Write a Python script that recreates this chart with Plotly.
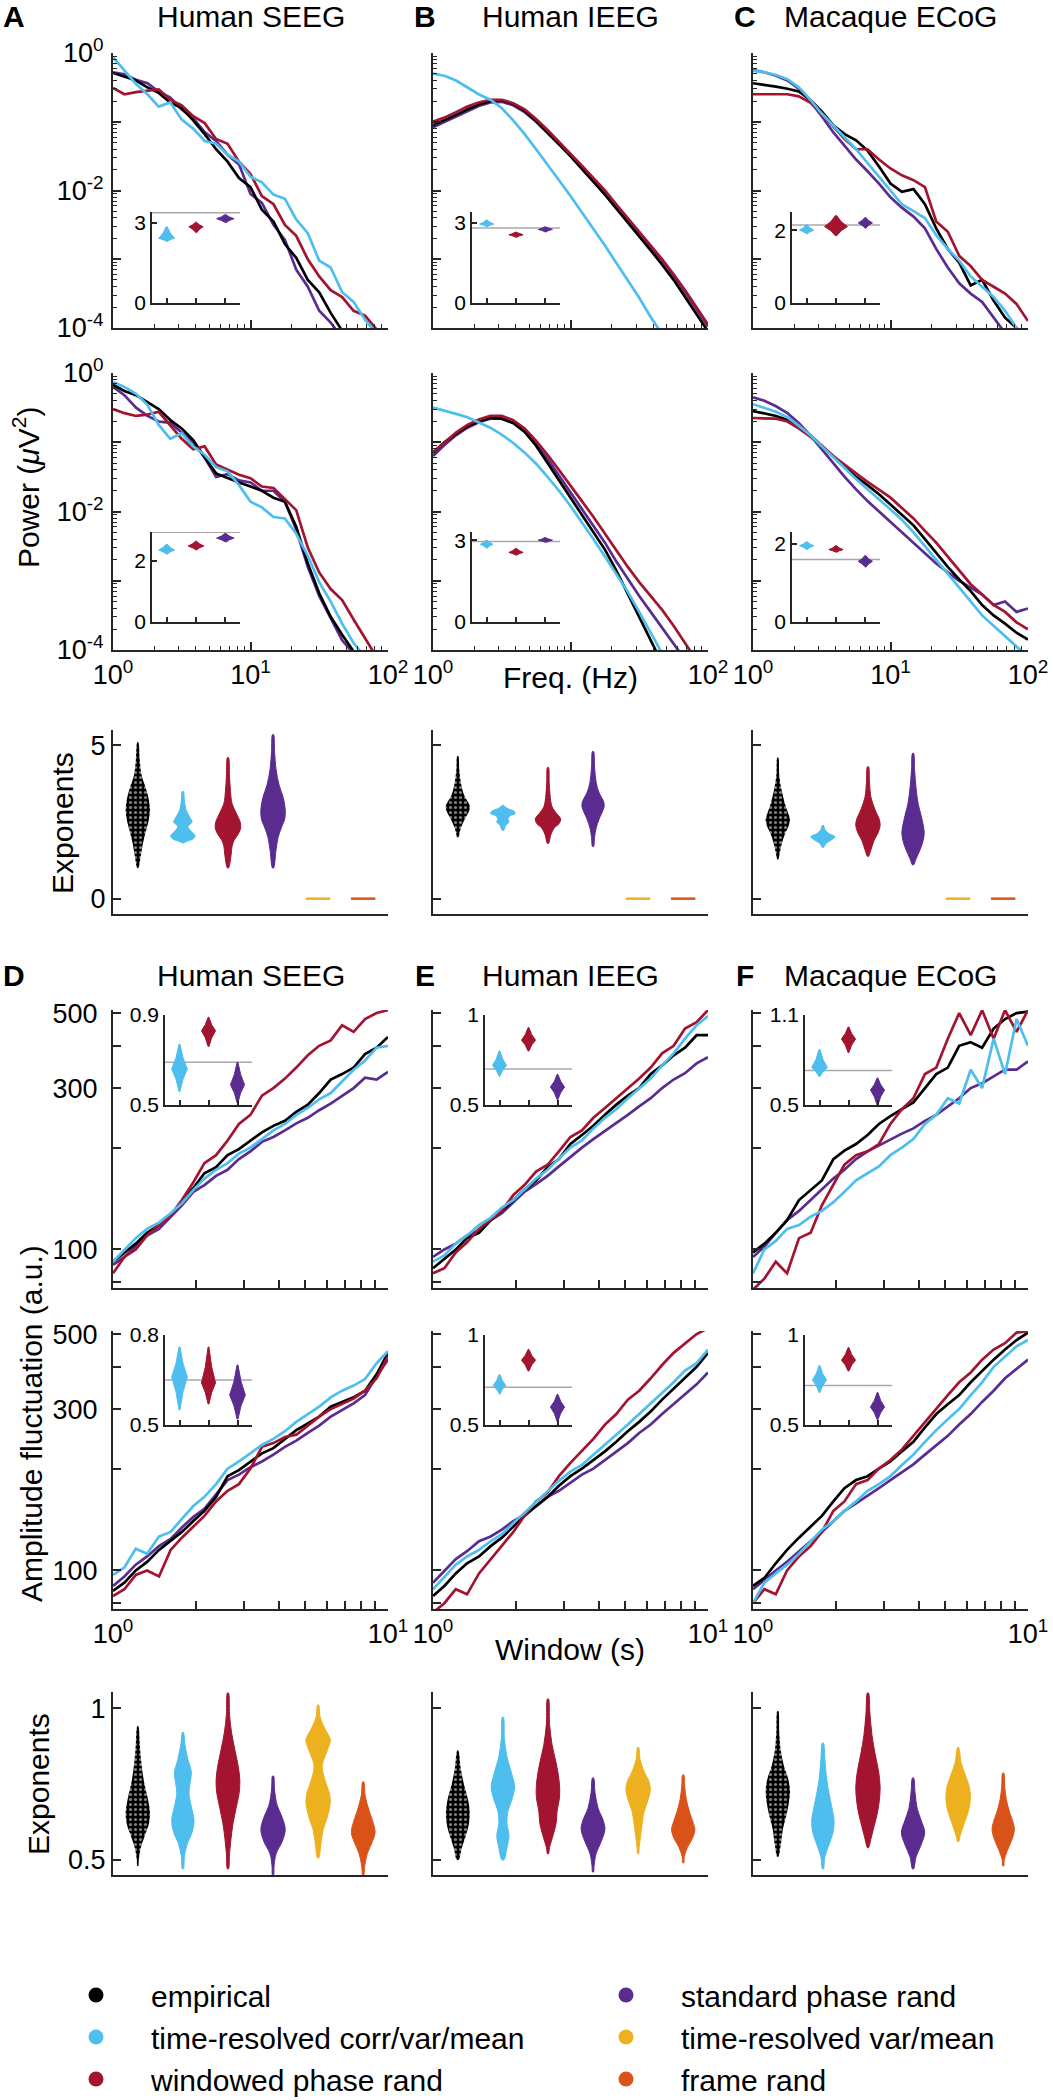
import plotly.graph_objects as go

W, H = 1053, 2100
FONT = 'Liberation Sans, Arial, Helvetica, sans-serif'

COLORS = {'emp': '#000000', 'trc': '#4DBEEE', 'wpr': '#A2142F',
          'spr': '#5B2C8F', 'trv': '#EDB120', 'fr': '#D95319'}
LABELS = {'emp': 'empirical', 'trc': 'time-resolved corr/var/mean',
          'wpr': 'windowed phase rand', 'spr': 'standard phase rand',
          'trv': 'time-resolved var/mean', 'fr': 'frame rand'}
VIOLIN_ORDER = ['emp', 'trc', 'wpr', 'spr', 'trv', 'fr']
col_titles = ['Human SEEG', 'Human IEEG', 'Macaque ECoG']
psd_letters = ['A', 'B', 'C']
dfa_letters = ['D', 'E', 'F']

# ---------------- PSD spectra (log10 power, µV^2) ----------------
psd_freq = [1.0, 1.21, 1.47, 1.78, 2.15, 2.61, 3.16, 3.83, 4.64, 5.62, 6.81, 8.25,
            10.0, 12.1, 14.7, 17.8, 21.5, 26.1, 31.6, 38.3, 46.4, 56.2, 68.1, 82.5, 100.0]

psdA1_emp = [-0.29, -0.35, -0.40, -0.50, -0.58, -0.72, -0.80, -0.98, -1.18, -1.40, -1.58, -1.82, -1.95, -2.28, -2.45, -2.78, -2.98, -3.30, -3.48, -3.78, -4.05, -4.30, -4.50, -4.70, -4.90]
psdA1_spr = [-0.28, -0.31, -0.39, -0.44, -0.56, -0.65, -0.82, -0.95, -1.15, -1.28, -1.48, -1.62, -2.05, -2.18, -2.50, -2.72, -3.15, -3.40, -3.75, -3.92, -4.15, -4.40, -4.60, -4.80, -5.00]
psdA1_wpr = [-0.51, -0.60, -0.57, -0.55, -0.53, -0.68, -0.76, -0.92, -1.02, -1.25, -1.32, -1.58, -1.76, -2.08, -2.20, -2.50, -2.66, -3.00, -3.25, -3.45, -3.55, -3.75, -3.82, -4.02, -4.10]
psdA1_trc = [-0.06, -0.25, -0.45, -0.60, -0.78, -0.72, -0.97, -1.10, -1.28, -1.32, -1.48, -1.58, -1.80, -1.88, -2.06, -2.12, -2.42, -2.62, -3.02, -3.12, -3.48, -3.62, -3.88, -4.08, -4.30]

psdA2_emp = [-0.17, -0.26, -0.32, -0.42, -0.52, -0.68, -0.80, -0.97, -1.22, -1.45, -1.52, -1.58, -1.64, -1.70, -1.80, -1.86, -2.22, -2.75, -3.18, -3.52, -3.78, -4.02, -4.20, -4.40, -4.60]
psdA2_spr = [-0.20, -0.32, -0.50, -0.62, -0.70, -0.72, -0.86, -1.00, -1.22, -1.50, -1.46, -1.55, -1.58, -1.70, -1.70, -1.86, -2.26, -2.80, -3.22, -3.55, -3.86, -4.05, -4.25, -4.45, -4.65]
psdA2_wpr = [-0.52, -0.58, -0.62, -0.60, -0.56, -0.76, -0.95, -1.10, -1.06, -1.32, -1.40, -1.47, -1.52, -1.64, -1.66, -1.82, -1.98, -2.52, -2.88, -3.12, -3.28, -3.56, -3.84, -4.10, -4.30]
psdA2_trc = [-0.13, -0.20, -0.30, -0.46, -0.75, -0.95, -0.87, -1.06, -1.18, -1.36, -1.42, -1.62, -1.86, -1.94, -2.08, -2.10, -2.32, -2.64, -3.02, -3.30, -3.62, -3.90, -4.10, -4.30, -4.50]

psdB1_emp = [-1.05, -0.98, -0.90, -0.82, -0.75, -0.70, -0.69, -0.74, -0.84, -0.99, -1.15, -1.32, -1.50, -1.68, -1.87, -2.06, -2.26, -2.46, -2.66, -2.87, -3.08, -3.30, -3.55, -3.80, -4.05]
psdB1_wpr = [-1.00, -0.94, -0.86, -0.78, -0.72, -0.68, -0.68, -0.73, -0.82, -0.96, -1.12, -1.29, -1.46, -1.64, -1.82, -2.00, -2.20, -2.40, -2.60, -2.80, -3.00, -3.22, -3.45, -3.70, -3.95]
psdB1_spr = [-1.08, -1.00, -0.92, -0.84, -0.77, -0.72, -0.71, -0.76, -0.86, -1.00, -1.16, -1.33, -1.50, -1.68, -1.86, -2.05, -2.24, -2.43, -2.62, -2.82, -3.02, -3.24, -3.48, -3.72, -3.98]
psdB1_trc = [-0.30, -0.33, -0.40, -0.50, -0.60, -0.68, -0.80, -0.98, -1.18, -1.40, -1.62, -1.85, -2.08, -2.32, -2.55, -2.80, -3.05, -3.30, -3.56, -3.84, -4.10, -4.35, -4.60, -4.85, -5.10]

psdB2_emp = [-1.15, -1.00, -0.88, -0.77, -0.70, -0.65, -0.66, -0.72, -0.85, -1.05, -1.30, -1.55, -1.80, -2.05, -2.30, -2.55, -2.85, -3.20, -3.55, -3.90, -4.25, -4.60, -4.90, -5.20, -5.50]
psdB2_wpr = [-1.15, -1.00, -0.86, -0.75, -0.67, -0.62, -0.62, -0.68, -0.80, -0.98, -1.18, -1.40, -1.62, -1.85, -2.08, -2.32, -2.56, -2.80, -3.02, -3.22, -3.42, -3.65, -3.90, -4.15, -4.40]
psdB2_spr = [-1.20, -1.04, -0.90, -0.79, -0.71, -0.66, -0.66, -0.72, -0.84, -1.02, -1.24, -1.48, -1.72, -1.96, -2.20, -2.45, -2.72, -2.98, -3.22, -3.45, -3.68, -3.90, -4.12, -4.35, -4.60]
psdB2_trc = [-0.50, -0.54, -0.59, -0.64, -0.71, -0.79, -0.89, -1.01, -1.15, -1.31, -1.50, -1.70, -1.92, -2.15, -2.40, -2.65, -2.90, -3.16, -3.45, -3.75, -4.05, -4.35, -4.65, -4.95, -5.25]

psdC1_emp = [-0.44, -0.46, -0.49, -0.52, -0.56, -0.68, -0.85, -1.05, -1.18, -1.27, -1.42, -1.65, -1.90, -2.02, -1.98, -2.20, -2.55, -2.85, -3.05, -3.38, -3.30, -3.60, -3.85, -4.00, -4.20]
psdC1_wpr = [-0.60, -0.60, -0.60, -0.60, -0.63, -0.72, -0.88, -1.06, -1.25, -1.40, -1.40, -1.55, -1.68, -1.78, -1.85, -1.95, -2.45, -2.60, -2.95, -3.10, -3.30, -3.40, -3.50, -3.65, -3.90]
psdC1_spr = [-0.25, -0.28, -0.33, -0.40, -0.52, -0.70, -0.92, -1.15, -1.35, -1.55, -1.72, -1.90, -2.10, -2.25, -2.38, -2.55, -2.85, -3.12, -3.35, -3.50, -3.62, -3.85, -4.10, -4.30, -4.50]
psdC1_trc = [-0.26, -0.28, -0.32, -0.38, -0.50, -0.68, -0.88, -1.05, -1.22, -1.40, -1.60, -1.80, -2.00, -2.20, -2.30, -2.40, -2.65, -2.85, -3.02, -3.25, -3.40, -3.55, -3.75, -4.00, -4.20]

psdC2_emp = [-0.55, -0.58, -0.62, -0.68, -0.78, -0.90, -1.05, -1.20, -1.35, -1.50, -1.62, -1.75, -1.90, -2.05, -2.20, -2.40, -2.60, -2.80, -2.98, -3.15, -3.35, -3.50, -3.62, -3.75, -3.85]
psdC2_wpr = [-0.65, -0.65, -0.66, -0.70, -0.80, -0.92, -1.05, -1.20, -1.33, -1.45, -1.57, -1.68, -1.80, -1.95, -2.10, -2.28, -2.45, -2.65, -2.85, -3.05, -3.20, -3.35, -3.45, -3.60, -3.70]
psdC2_spr = [-0.35, -0.40, -0.48, -0.58, -0.72, -0.90, -1.10, -1.30, -1.50, -1.68, -1.85, -2.00, -2.15, -2.30, -2.45, -2.60, -2.75, -2.88, -3.00, -3.10, -3.20, -3.35, -3.30, -3.45, -3.40]
psdC2_trc = [-0.45, -0.50, -0.56, -0.64, -0.76, -0.90, -1.06, -1.22, -1.38, -1.53, -1.68, -1.82, -1.97, -2.12, -2.30, -2.50, -2.70, -2.90, -3.10, -3.30, -3.50, -3.65, -3.80, -3.95, -4.10]

# ---------------- DFA fluctuation (a.u.) ----------------
dfa_win = [1.0, 1.1, 1.21, 1.33, 1.47, 1.62, 1.78, 1.96, 2.15, 2.37, 2.61, 2.87,
           3.16, 3.48, 3.83, 4.22, 4.64, 5.11, 5.62, 6.19, 6.81, 7.5, 8.25, 9.09, 10.0]

dfaD1_emp = [92, 98, 104, 112, 118, 127, 138, 152, 168, 175, 190, 198, 210, 222, 232, 240, 255, 268, 290, 318, 330, 345, 378, 395, 425]
dfaD1_wpr = [85, 95, 100, 110, 118, 126, 140, 158, 180, 190, 210, 235, 250, 285, 300, 320, 345, 375, 400, 415, 460, 440, 480, 500, 510]
dfaD1_trc = [92, 100, 108, 115, 120, 128, 137, 150, 162, 172, 180, 192, 200, 212, 225, 235, 250, 262, 278, 290, 315, 340, 362, 395, 400]
dfaD1_spr = [90, 95, 102, 110, 115, 125, 135, 148, 155, 165, 172, 185, 195, 208, 215, 225, 236, 245, 258, 270, 285, 300, 322, 318, 335]

dfaD2_emp = [87, 92, 100, 106, 115, 122, 130, 140, 150, 165, 190, 198, 210, 222, 230, 245, 260, 272, 285, 305, 315, 325, 340, 380, 440]
dfaD2_trc = [97, 102, 116, 112, 126, 130, 142, 155, 165, 180, 200, 210, 222, 235, 245, 258, 275, 290, 305, 325, 340, 352, 368, 410, 445]
dfaD2_wpr = [84, 88, 97, 100, 96, 115, 125, 135, 145, 160, 172, 180, 200, 232, 238, 248, 252, 268, 285, 300, 310, 322, 340, 370, 430]
dfaD2_spr = [90, 96, 104, 110, 118, 124, 134, 144, 152, 168, 185, 192, 202, 210, 220, 232, 242, 255, 268, 285, 298, 312, 330, 375, 420]

dfaE1_emp = [88, 94, 100, 108, 112, 122, 130, 140, 150, 160, 175, 185, 205, 218, 232, 250, 268, 285, 300, 330, 350, 375, 395, 430, 430]
dfaE1_wpr = [85, 88, 98, 105, 115, 122, 130, 145, 155, 170, 178, 195, 215, 225, 245, 262, 280, 300, 320, 345, 380, 400, 450, 470, 510]
dfaE1_trc = [92, 96, 104, 110, 118, 124, 133, 140, 150, 162, 172, 185, 200, 210, 228, 245, 260, 280, 300, 320, 350, 380, 420, 460, 490]
dfaE1_spr = [95, 100, 104, 110, 114, 122, 128, 138, 148, 156, 165, 176, 188, 200, 212, 224, 236, 250, 265, 280, 300, 318, 332, 355, 370]

dfaE2_emp = [84, 90, 98, 105, 110, 118, 125, 135, 145, 155, 165, 178, 190, 200, 212, 225, 240, 258, 275, 295, 320, 345, 370, 400, 440]
dfaE2_wpr = [75, 80, 88, 85, 98, 108, 118, 130, 145, 160, 170, 190, 208, 225, 245, 270, 290, 320, 340, 370, 405, 440, 470, 500, 520]
dfaE2_trc = [88, 96, 104, 110, 115, 122, 128, 138, 148, 160, 172, 184, 196, 205, 220, 235, 252, 270, 290, 310, 335, 360, 390, 410, 450]
dfaE2_spr = [92, 100, 108, 114, 122, 126, 132, 140, 146, 155, 165, 172, 182, 192, 200, 212, 225, 238, 255, 270, 290, 310, 330, 355, 385]

dfaF1_emp = [98, 104, 112, 122, 140, 150, 160, 185, 196, 205, 218, 235, 248, 260, 272, 300, 330, 345, 400, 410, 395, 450, 480, 500, 505]
dfaF1_wpr = [76, 82, 92, 85, 108, 112, 135, 155, 178, 190, 195, 205, 235, 260, 280, 330, 345, 420, 500, 430, 510, 420, 510, 440, 510]
dfaF1_trc = [85, 100, 106, 115, 118, 125, 130, 138, 148, 160, 168, 176, 190, 200, 212, 235, 250, 280, 270, 340, 300, 420, 330, 480, 400]
dfaF1_spr = [95, 102, 112, 122, 130, 140, 150, 162, 172, 185, 195, 203, 212, 220, 228, 240, 250, 265, 280, 300, 310, 325, 340, 340, 360]

dfaF2_emp = [90, 95, 105, 115, 125, 135, 145, 160, 175, 185, 190, 200, 210, 225, 240, 265, 290, 310, 330, 360, 390, 420, 450, 480, 505]
dfaF2_wpr = [80, 88, 85, 100, 110, 118, 130, 150, 160, 180, 185, 200, 212, 228, 250, 275, 300, 330, 360, 385, 420, 450, 470, 505, 510]
dfaF2_trc = [80, 92, 98, 104, 112, 122, 132, 140, 150, 160, 172, 180, 190, 205, 220, 240, 260, 280, 300, 330, 360, 400, 430, 460, 480]
dfaF2_spr = [88, 94, 100, 106, 114, 122, 130, 140, 150, 158, 166, 175, 185, 195, 206, 220, 235, 250, 270, 290, 315, 340, 370, 395, 420]

# ---------------- exponent distributions: (exponent levels, relative density) ----------------
psdA_vio = {
    'emp': ([1.0, 1.4, 1.8, 2.2, 2.6, 2.9, 3.2, 3.6, 4.0, 4.5, 5.1], [0.5, 3, 5, 8, 11, 12, 11, 8, 4, 2, 0.5]),
    'trc': ([1.82, 1.86, 1.95, 2.05, 2.2, 2.35, 2.5, 2.65, 2.9, 3.2, 3.5], [0.5, 3, 10, 12, 8, 5, 9, 7, 3, 1.5, 0.5]),
    'wpr': ([1.0, 1.4, 1.7, 1.9, 2.1, 2.3, 2.5, 2.8, 3.1, 3.5, 4.0, 4.6], [0.5, 3, 4, 6, 10, 12.5, 12, 8, 4, 2.5, 1.5, 0.5]),
    'spr': ([1.0, 1.6, 2.0, 2.3, 2.6, 2.9, 3.3, 3.7, 4.2, 4.8, 5.35], [0.5, 3, 5, 8, 11.5, 12, 10, 6, 3, 1.5, 0.5]),
}
psdB_vio = {
    'emp': ([2.0, 2.3, 2.6, 2.85, 3.0, 3.15, 3.4, 3.8, 4.2, 4.65], [0.5, 3, 7, 11, 12, 10, 6, 3, 1.5, 0.5]),
    'trc': ([2.22, 2.4, 2.5, 2.6, 2.7, 2.78, 2.85, 2.95, 3.04], [0.5, 3, 6, 5, 7, 12, 11, 4, 0.5]),
    'wpr': ([1.8, 2.1, 2.3, 2.45, 2.6, 2.8, 3.0, 3.4, 3.8, 4.28], [0.5, 3, 6, 11, 12.5, 8, 4, 2, 1.2, 0.5]),
    'spr': ([1.7, 2.0, 2.3, 2.6, 2.9, 3.05, 3.2, 3.45, 3.8, 4.3, 4.8], [0.5, 1.5, 3, 6, 10, 11, 10, 6, 3, 1.5, 0.5]),
}
psdC_vio = {
    'emp': ([1.28, 1.5, 1.8, 2.1, 2.4, 2.6, 2.8, 3.1, 3.5, 4.0, 4.6], [0.5, 2, 4, 7, 11, 12, 10, 7, 4, 1.5, 0.5]),
    'trc': ([1.67, 1.8, 1.93, 2.02, 2.12, 2.25, 2.39], [0.5, 3, 9, 12, 6, 2, 0.5]),
    'wpr': ([1.38, 1.6, 1.9, 2.15, 2.4, 2.6, 2.9, 3.3, 3.8, 4.3], [0.5, 3, 6, 10, 12, 11, 7, 3, 1.5, 0.5]),
    'spr': ([1.1, 1.3, 1.6, 1.9, 2.15, 2.4, 2.7, 3.1, 3.6, 4.2, 4.74], [0.5, 3, 7, 10, 11, 10, 8, 5, 3, 1.5, 0.5]),
}
psd_flat_exponent = {'trv': 0.0, 'fr': 0.0}

dfaD_vio = {
    'emp': ([0.48, 0.5, 0.54, 0.58, 0.62, 0.655, 0.7, 0.76, 0.82, 0.88, 0.94], [0.5, 1, 3, 7, 11, 12, 10, 6, 3.5, 2, 0.5]),
    'trc': ([0.47, 0.51, 0.55, 0.59, 0.63, 0.68, 0.72, 0.75, 0.79, 0.83, 0.88, 0.92], [0.5, 1.5, 4, 9, 11, 8, 6, 7, 8.3, 5, 2, 0.5]),
    'wpr': ([0.47, 0.52, 0.57, 0.62, 0.67, 0.72, 0.76, 0.8, 0.86, 0.92, 0.98, 1.05], [0.5, 1.5, 3, 5, 8, 11, 11.7, 10.5, 7, 3.5, 1.5, 0.5]),
    'spr': ([0.45, 0.48, 0.52, 0.56, 0.6, 0.64, 0.68, 0.73, 0.776], [0.5, 1, 3, 9, 12, 9, 4, 1.5, 0.5]),
    'trv': ([0.506, 0.56, 0.6, 0.64, 0.69, 0.72, 0.76, 0.81, 0.86, 0.895, 0.93, 0.97, 1.01], [0.5, 3, 5, 9, 12, 11, 7, 4, 9, 12, 7, 2, 0.5]),
    'fr': ([0.45, 0.48, 0.52, 0.56, 0.59, 0.62, 0.66, 0.71, 0.757], [0.5, 1.5, 4, 9, 11.7, 10, 6, 2, 0.5]),
}
dfaE_vio = {
    'emp': ([0.5, 0.54, 0.58, 0.62, 0.66, 0.7, 0.75, 0.8, 0.86], [1, 4, 8, 11, 11.7, 10, 6, 3, 0.5]),
    'trc': ([0.5, 0.54, 0.58, 0.62, 0.66, 0.7, 0.74, 0.78, 0.84, 0.9, 0.97], [1, 4, 6, 4, 5, 9, 11.5, 9, 4, 1.5, 0.5]),
    'wpr': ([0.52, 0.54, 0.58, 0.62, 0.66, 0.71, 0.76, 0.82, 0.88, 0.95, 1.03], [0.5, 1.5, 5, 8, 9, 11.5, 11, 8, 4, 1.5, 0.5]),
    'spr': ([0.46, 0.48, 0.52, 0.56, 0.6, 0.63, 0.67, 0.72, 0.77], [0.5, 1, 3, 8, 11.7, 10, 5, 2, 0.5]),
    'trv': ([0.52, 0.54, 0.58, 0.62, 0.66, 0.7, 0.73, 0.76, 0.79, 0.83, 0.87], [0.5, 1, 2.5, 4, 6, 10, 12, 10.5, 6, 2, 0.5]),
    'fr': ([0.49, 0.51, 0.54, 0.57, 0.6, 0.62, 0.66, 0.7, 0.74, 0.78], [0.5, 1, 4, 9, 11.5, 10, 6, 3, 1.5, 0.5]),
}
dfaF_vio = {
    'emp': ([0.51, 0.55, 0.6, 0.64, 0.69, 0.73, 0.77, 0.81, 0.86, 0.92, 0.99], [0.5, 3, 5, 8, 11, 12, 10, 6, 3, 1.5, 0.5]),
    'trc': ([0.47, 0.51, 0.55, 0.59, 0.63, 0.67, 0.72, 0.77, 0.83, 0.885], [0.5, 2, 6, 10, 11, 9, 6, 3.5, 2, 0.5]),
    'wpr': ([0.54, 0.57, 0.61, 0.65, 0.69, 0.74, 0.79, 0.85, 0.91, 0.98, 1.05], [0.5, 3, 6, 9, 11, 12, 10.5, 7, 4, 2, 0.5]),
    'spr': ([0.47, 0.51, 0.55, 0.59, 0.63, 0.67, 0.72, 0.77], [0.5, 3, 8, 11.5, 8, 4, 2, 0.5]),
    'trv': ([0.56, 0.58, 0.62, 0.66, 0.7, 0.74, 0.78, 0.82, 0.87], [0.5, 2, 6, 10, 12, 11, 7, 3, 0.5]),
    'fr': ([0.48, 0.5, 0.53, 0.57, 0.6, 0.62, 0.66, 0.7, 0.74, 0.786], [0.5, 1, 4, 9, 11, 10, 6, 3, 1.5, 0.5]),
}

# ---------------- insets: per surrogate (center, low, high, relative width) ----------------
psd_insets = {
    'A1': dict(top=3.4, tick=3, ref=3.37, trc=(2.42, 2.3, 2.85, 1.0), wpr=(2.85, 2.62, 3.02, 0.9), spr=(3.15, 3.0, 3.3, 1.1)),
    'A2': dict(top=2.95, tick=2, ref=2.94, trc=(2.36, 2.22, 2.55, 1.0), wpr=(2.49, 2.36, 2.65, 1.0), spr=(2.75, 2.62, 2.9, 1.1)),
    'B1': dict(top=3.4, tick=3, ref=2.8, trc=(2.95, 2.85, 3.1, 0.9), wpr=(2.55, 2.45, 2.65, 0.9), spr=(2.75, 2.65, 2.85, 0.9)),
    'B2': dict(top=3.3, tick=3, ref=2.95, trc=(2.85, 2.7, 3.0, 0.8), wpr=(2.55, 2.45, 2.7, 0.9), spr=(3.0, 2.92, 3.1, 0.9)),
    'C1': dict(top=2.5, tick=2, ref=2.14, trc=(2.0, 1.9, 2.15, 0.9), wpr=(2.1, 1.85, 2.4, 1.45), spr=(2.2, 2.05, 2.35, 0.9)),
    'C2': dict(top=2.3, tick=2, ref=1.6, trc=(1.95, 1.85, 2.05, 0.9), wpr=(1.85, 1.78, 1.95, 0.9), spr=(1.55, 1.4, 1.7, 0.9)),
}
dfa_insets = {
    'D1': dict(top=0.9, ref=0.69, trc=(0.66, 0.56, 0.77, 1.0), wpr=(0.83, 0.76, 0.89, 0.9), spr=(0.59, 0.51, 0.69, 0.9)),
    'D2': dict(top=0.8, ref=0.65, trc=(0.66, 0.55, 0.76, 1.0), wpr=(0.64, 0.57, 0.76, 0.9), spr=(0.6, 0.52, 0.7, 1.0)),
    'E1': dict(top=1.0, ref=0.7, trc=(0.72, 0.66, 0.8, 0.9), wpr=(0.86, 0.8, 0.93, 0.9), spr=(0.6, 0.53, 0.67, 0.9)),
    'E2': dict(top=1.0, ref=0.71, trc=(0.72, 0.67, 0.78, 0.8), wpr=(0.86, 0.8, 0.92, 0.9), spr=(0.6, 0.52, 0.67, 0.9)),
    'F1': dict(top=1.1, ref=0.73, trc=(0.75, 0.69, 0.87, 1.0), wpr=(0.94, 0.85, 1.02, 0.9), spr=(0.6, 0.5, 0.68, 0.9)),
    'F2': dict(top=1.0, ref=0.72, trc=(0.75, 0.68, 0.83, 0.9), wpr=(0.86, 0.8, 0.93, 0.9), spr=(0.6, 0.53, 0.68, 0.9)),
}

psd_data = {
    'A1': dict(emp=psdA1_emp, spr=psdA1_spr, wpr=psdA1_wpr, trc=psdA1_trc),
    'A2': dict(emp=psdA2_emp, spr=psdA2_spr, wpr=psdA2_wpr, trc=psdA2_trc),
    'B1': dict(emp=psdB1_emp, spr=psdB1_spr, wpr=psdB1_wpr, trc=psdB1_trc),
    'B2': dict(emp=psdB2_emp, spr=psdB2_spr, wpr=psdB2_wpr, trc=psdB2_trc),
    'C1': dict(emp=psdC1_emp, spr=psdC1_spr, wpr=psdC1_wpr, trc=psdC1_trc),
    'C2': dict(emp=psdC2_emp, spr=psdC2_spr, wpr=psdC2_wpr, trc=psdC2_trc),
}
dfa_data = {
    'D1': dict(emp=dfaD1_emp, spr=dfaD1_spr, wpr=dfaD1_wpr, trc=dfaD1_trc),
    'D2': dict(emp=dfaD2_emp, spr=dfaD2_spr, wpr=dfaD2_wpr, trc=dfaD2_trc),
    'E1': dict(emp=dfaE1_emp, spr=dfaE1_spr, wpr=dfaE1_wpr, trc=dfaE1_trc),
    'E2': dict(emp=dfaE2_emp, spr=dfaE2_spr, wpr=dfaE2_wpr, trc=dfaE2_trc),
    'F1': dict(emp=dfaF1_emp, spr=dfaF1_spr, wpr=dfaF1_wpr, trc=dfaF1_trc),
    'F2': dict(emp=dfaF2_emp, spr=dfaF2_spr, wpr=dfaF2_wpr, trc=dfaF2_trc),
}
psd_vios = [psdA_vio, psdB_vio, psdC_vio]
dfa_vios = [dfaD_vio, dfaE_vio, dfaF_vio]

# ---------------- layout geometry (pixels) ----------------
COLS = [113, 433, 753]
CW = 275
PSD_ROWS = [(53, 328), (373, 650)]
PSD_VIO = (730, 914)
DFA_ROWS = [(1010, 1288), (1331, 1609)]
DFA_VIO = (1692, 1875)
PSD_INSET_X = (39, 127)
PSD_INSET_Y = [(212, 303), (532, 622)]
DFA_INSET_X = (52, 139)
DFA_INSET_Y = [(1015, 1105), (1335, 1425)]
VIO_HW = 0.27 / 12.0
INSET_HW = 0.27
LINE_W = 2.7
AXC = '#262626'

fig = go.Figure()
axn = [0]


def new_axes(x0, x1, y0, y1, xcfg, ycfg):
    axn[0] += 1
    s = '' if axn[0] == 1 else str(axn[0])
    fig.update_layout(**{
        'xaxis' + s: dict(domain=[x0 / W, x1 / W], anchor='y' + s, **xcfg),
        'yaxis' + s: dict(domain=[1 - y1 / H, 1 - y0 / H], anchor='x' + s, **ycfg),
    })
    return 'x' + s, 'y' + s


def base(**kw):
    d = dict(showline=True, linecolor=AXC, linewidth=2, ticks='inside', tickcolor=AXC,
             tickwidth=1.5, ticklen=8, showgrid=False, zeroline=False, mirror=False,
             tickfont=dict(size=27, color='black', family=FONT), fixedrange=True, automargin=False,
             ticklabeloverflow='allow')
    d.update(kw)
    return d


def sup(e):
    return '10<sup>%d</sup>' % e


def violin_xy(pos, ys, dens, scale):
    xs = [pos + d * scale for d in dens] + [pos - d * scale for d in reversed(dens)]
    yy = list(ys) + list(reversed(ys))
    return xs + [xs[0]], yy + [yy[0]]


def inset_xy(pos, c, lo, hi, w):
    ys = [lo, c - 0.45 * (c - lo), c, c + 0.45 * (hi - c), hi]
    ds = [0.06, 0.45, 1.0, 0.45, 0.06]
    return violin_xy(pos, ys, [d * w for d in ds], INSET_HW)


def add_inset(left, ytb, xoff, cfg, is_psd):
    x0, x1 = left + xoff[0], left + xoff[1]
    if is_psd:
        yr = [0, cfg['top']]
        tv = [0, cfg['tick']]
        tt = ['0', str(cfg['tick'])]
    else:
        yr = [0.5, cfg['top']]
        tv = [0.5, cfg['top']]
        tt = ['0.5', ('%g' % cfg['top'])]
    xa, ya = new_axes(x0, x1, ytb[0], ytb[1],
                      base(range=[0.5, 3.5], tickvals=[1, 2, 3], showticklabels=False, ticklen=5, linewidth=1.5),
                      base(range=yr, tickvals=tv, ticktext=tt, ticklen=5, linewidth=1.5,
                           tickfont=dict(size=21, color='black', family=FONT)))
    fig.add_trace(go.Scatter(x=[0.5, 3.5], y=[cfg['ref'], cfg['ref']], mode='lines',
                             line=dict(color='#a8a8a8', width=1.5), xaxis=xa, yaxis=ya,
                             showlegend=False, hoverinfo='skip', cliponaxis=False))
    for pos, m in zip([1, 2, 3], ['trc', 'wpr', 'spr']):
        xs, yy = inset_xy(pos, *cfg[m])
        fig.add_trace(go.Scatter(x=xs, y=yy, mode='lines', fill='toself', fillcolor=COLORS[m],
                                 line=dict(color=COLORS[m], width=1), xaxis=xa, yaxis=ya,
                                 showlegend=False, hoverinfo='skip'))


def add_violin(xa, ya, pos, m, ys, dens):
    xs, yy = violin_xy(pos, ys, dens, VIO_HW)
    if m == 'emp':
        # empirical exponents are shown as a dense swarm of black dots
        fig.add_trace(go.Scatter(x=xs, y=yy, mode='lines', fill='toself', fillcolor='black',
                                 fillpattern=dict(shape='.', fgcolor='white', bgcolor='black', size=5, solidity=0.3),
                                 line=dict(color='rgba(0,0,0,0)', width=0, shape='spline'),
                                 xaxis=xa, yaxis=ya, showlegend=False, hoverinfo='skip'))
    else:
        fig.add_trace(go.Scatter(x=xs, y=yy, mode='lines', fill='toself', fillcolor=COLORS[m],
                                 line=dict(color=COLORS[m], width=1, shape='spline'),
                                 xaxis=xa, yaxis=ya, showlegend=False, hoverinfo='skip'))


DRAW_ORDER = ['spr', 'emp', 'wpr', 'trc']

for ci, left in enumerate(COLS):
    L = psd_letters[ci]
    # ---- PSD rows ----
    for ri, (t, b) in enumerate(PSD_ROWS):
        key = L + str(ri + 1)
        xt = [sup(0), sup(1) if ci != 1 else '', sup(2)]
        xcfg = base(type='log', range=[0, 2], tickvals=[1, 10, 100],
                    ticktext=xt, showticklabels=(ri == 1),
                    minor=dict(ticks='inside', ticklen=4, tickcolor=AXC, tickwidth=1,
                               tickvals=[2, 3, 4, 5, 6, 7, 8, 9, 20, 30, 40, 50, 60, 70, 80, 90]))
        ycfg = base(type='log', range=[-4, 0], tickvals=[1e-4, 1e-3, 1e-2, 1e-1, 1],
                    ticktext=[sup(-4), '', sup(-2), '', sup(0)], showticklabels=(ci == 0),
                    ticklabelstandoff=2,
                    minor=dict(ticks='inside', ticklen=4, tickcolor=AXC, tickwidth=1,
                               tickvals=[m * 10.0 ** e for e in range(-4, 0) for m in range(2, 10)]))
        xa, ya = new_axes(left, left + CW, t, b, xcfg, ycfg)
        for m in DRAW_ORDER:
            fig.add_trace(go.Scatter(x=psd_freq, y=[10 ** v for v in psd_data[key][m]], mode='lines',
                                     line=dict(color=COLORS[m], width=LINE_W), xaxis=xa, yaxis=ya,
                                     showlegend=False, hoverinfo='skip'))
        add_inset(left, PSD_INSET_Y[ri], PSD_INSET_X, psd_insets[key], True)
    # ---- PSD exponent violins ----
    xa, ya = new_axes(left, left + CW, PSD_VIO[0], PSD_VIO[1],
                      base(range=[0.45, 6.55], ticks='', showticklabels=False),
                      base(range=[-0.5, 5.5], tickvals=[0, 5], ticktext=['0', '5'], showticklabels=(ci == 0)))
    vio = psd_vios[ci]
    for pos, m in enumerate(VIOLIN_ORDER, start=1):
        if m in vio:
            add_violin(xa, ya, pos, m, *vio[m])
        else:
            v = psd_flat_exponent[m]
            fig.add_trace(go.Scatter(x=[pos - 12 * VIO_HW, pos + 12 * VIO_HW], y=[v, v], mode='lines',
                                     line=dict(color=COLORS[m], width=2.5), xaxis=xa, yaxis=ya,
                                     showlegend=False, hoverinfo='skip'))

    # ---- DFA rows ----
    L2 = dfa_letters[ci]
    for ri, (t, b) in enumerate(DFA_ROWS):
        key = L2 + str(ri + 1)
        xcfg = base(type='log', range=[0, 1], tickvals=[1, 2, 3, 4, 5, 6, 7, 8, 9, 10],
                    ticktext=[sup(0), '', '', '', '', '', '', '', '', sup(1)], showticklabels=(ri == 1))
        ycfg = base(type='log', range=[1.886, 2.708], tickvals=[80, 100, 200, 300, 400, 500],
                    ticktext=['', '100', '', '300', '', '500'], showticklabels=(ci == 0), ticklabelstandoff=8)
        xa, ya = new_axes(left, left + CW, t, b, xcfg, ycfg)
        for m in DRAW_ORDER:
            fig.add_trace(go.Scatter(x=dfa_win, y=dfa_data[key][m], mode='lines',
                                     line=dict(color=COLORS[m], width=LINE_W), xaxis=xa, yaxis=ya,
                                     showlegend=False, hoverinfo='skip'))
        add_inset(left, DFA_INSET_Y[ri], DFA_INSET_X, dfa_insets[key], False)
    # ---- DFA exponent violins ----
    xa, ya = new_axes(left, left + CW, DFA_VIO[0], DFA_VIO[1],
                      base(range=[0.45, 6.55], ticks='', showticklabels=False),
                      base(range=[0.45, 1.053], tickvals=[0.5, 1], ticktext=['0.5', '1'], showticklabels=(ci == 0)))
    vio = dfa_vios[ci]
    for pos, m in enumerate(VIOLIN_ORDER, start=1):
        add_violin(xa, ya, pos, m, *vio[m])

# ---------------- legend entries: two legends, one per column ----------------
for m, lg in [('emp', 'legend'), ('trc', 'legend'), ('wpr', 'legend'),
              ('spr', 'legend2'), ('trv', 'legend2'), ('fr', 'legend2')]:
    fig.add_trace(go.Scatter(x=[None], y=[None], mode='markers', name=LABELS[m], legend=lg,
                             marker=dict(color=COLORS[m], size=15), xaxis='x', yaxis='y', showlegend=True))

# ---------------- text annotations ----------------
ann = []


def txt(x, y, s, size=30, bold=False, angle=0, xanchor='center'):
    ann.append(dict(x=x / W, y=1 - y / H, xref='paper', yref='paper', text=('<b>%s</b>' % s) if bold else s,
                    showarrow=False, textangle=angle, xanchor=xanchor, yanchor='middle',
                    font=dict(size=size, color='black', family=FONT)))


letter_x = [14, 425, 745]
for ci, left in enumerate(COLS):
    txt(left + CW / 2, 17, col_titles[ci])
    txt(left + CW / 2, 975, col_titles[ci])
    txt(letter_x[ci], 17, psd_letters[ci], bold=True)
    txt(letter_x[ci], 975, dfa_letters[ci], bold=True)

txt(26, 487, 'Power (<i>μ</i>V<sup>2</sup>)', angle=-90)
txt(570, 677, 'Freq. (Hz)')
txt(62, 823, 'Exponents', angle=-90)
txt(31, 1424, 'Amplitude fluctuation (a.u.)', angle=-90)
txt(570, 1649, 'Window (s)')
txt(38, 1784, 'Exponents', angle=-90)

LEG = dict(orientation='v', xanchor='left', yanchor='top', y=1 - 1969 / H,
           font=dict(size=30, family=FONT, color='black'), bgcolor='rgba(0,0,0,0)',
           tracegroupgap=0, itemwidth=100)
fig.update_layout(
    width=W, height=H, margin=dict(l=0, r=0, t=0, b=0, autoexpand=False),
    paper_bgcolor='white', plot_bgcolor='rgba(0,0,0,0)',
    font=dict(family=FONT, color='black', size=27),
    annotations=ann,
    legend=dict(x=41 / W, **LEG),
    legend2=dict(x=571 / W, **LEG),
    showlegend=True,
)

fig.write_html('out.html', config={'displayModeBar': False},
               post_script="document.body.style.margin='0';")
